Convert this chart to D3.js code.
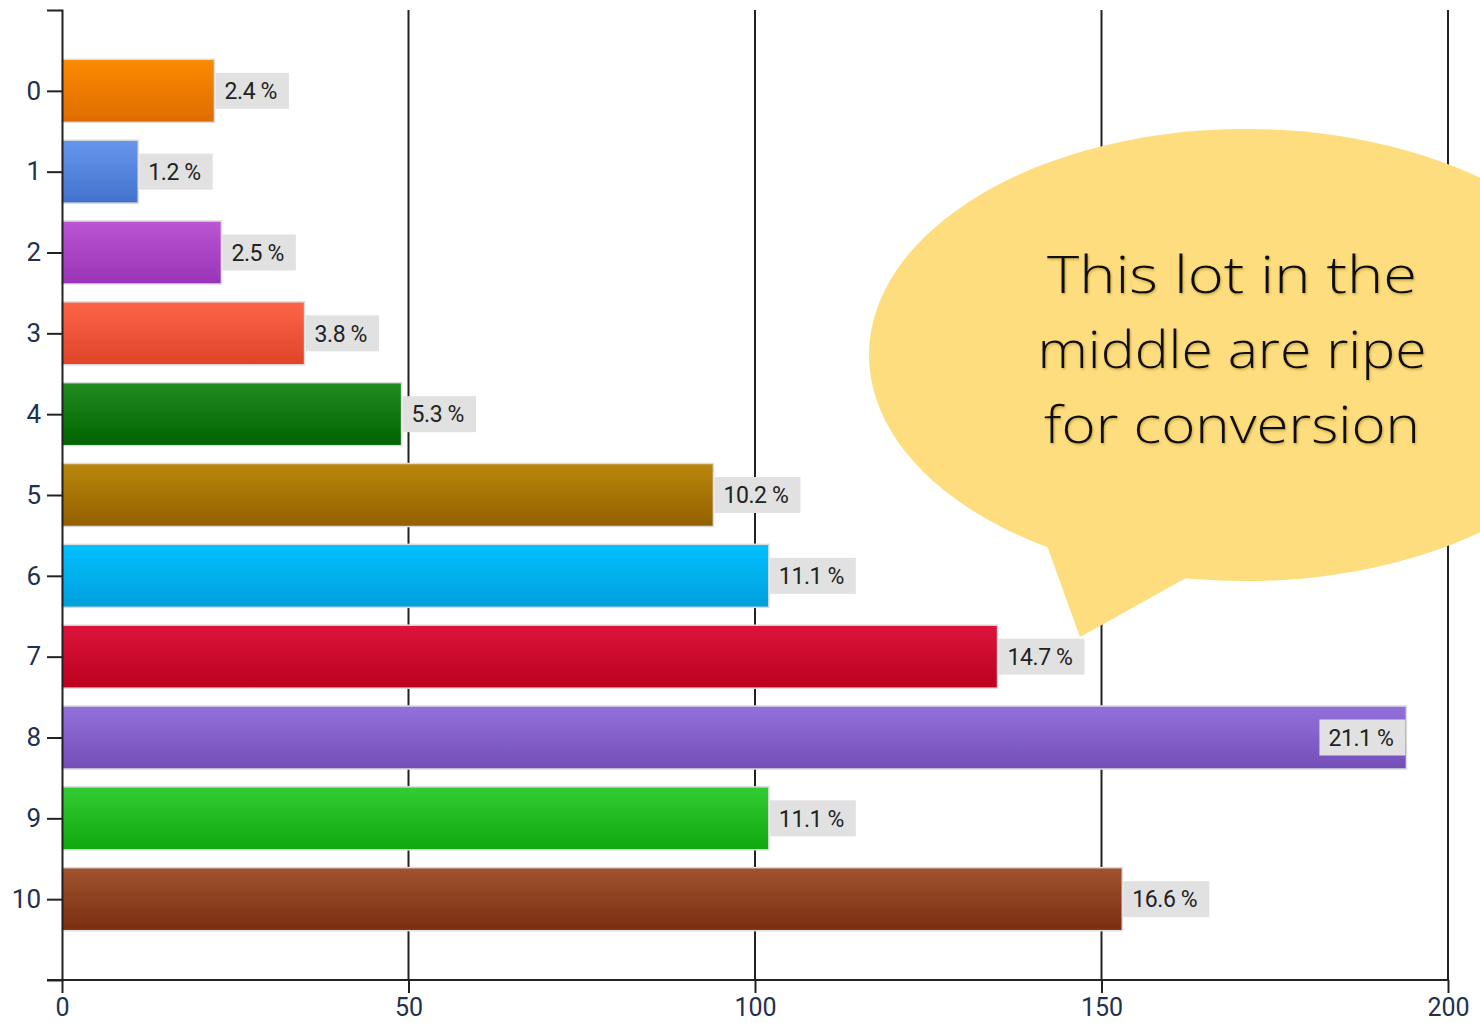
<!DOCTYPE html>
<html>
<head>
<meta charset="utf-8">
<script src="https://cdn.jsdelivr.net/npm/d3@7"></script>
<style>
  html, body { margin: 0; padding: 0; background: #ffffff; }
  svg { display: block; }
  .axis path, .axis line { stroke: #222; stroke-width: 2; }
  .axis text { font-family: Roboto, "Liberation Sans", sans-serif; font-size: 26px; fill: #1f3150; }
  .axis.xaxis text { font-size: 25px; }
  .pct { font-family: Roboto, "Liberation Sans", sans-serif; font-size: 23px; letter-spacing: -0.4px; fill: #222; }
  .note { font-family: "Open Sans", "Noto Sans", sans-serif; font-weight: 300; font-size: 52px; fill: #111; }
</style>
</head>
<body>
<svg id="chart" width="1480" height="1023"></svg>
<script>
// Response buckets and how many people fell into each
const categories = ["0", "1", "2", "3", "4", "5", "6", "7", "8", "9", "10"];
const counts = [22, 11, 23, 35, 49, 94, 102, 135, 194, 102, 153];

// Gradient stops per bar (top, bottom)
const topColors = ["#fb8b00", "#6696ec", "#bb56d4", "#fc6448", "#238c23", "#b9870c", "#00c0ff", "#dc143c", "#9470db", "#33cd33", "#a0532e"];
const bottomColors = ["#df6b00", "#4273cc", "#9834b6", "#df4429", "#006400", "#936000", "#009fdb", "#bc0020", "#744fb8", "#10a810", "#7b2f10"];

const xTicks = [0, 50, 100, 150, 200];
const noteLines = ["This lot in the", "middle are ripe", "for conversion"];

const W = 1480, H = 1023;
const svg = d3.select("#chart");
const defs = svg.append("defs");

const x = d3.scaleLinear().domain([0, 200]).range([62, 1448]);
const y = d3.scalePoint().domain(categories).range([10, 980]).padding(1);
const total = d3.sum(counts);
const barH = 63;

const data = categories.map((c, i) => ({
  cat: c, value: counts[i], top: topColors[i], bottom: bottomColors[i],
  label: (counts[i] / total * 100).toFixed(1) + " %"
}));

// vertical gradients for the bars
data.forEach((d, i) => {
  const g = defs.append("linearGradient").attr("id", "grad" + i)
    .attr("x1", 0).attr("y1", 0).attr("x2", 0).attr("y2", 1);
  g.append("stop").attr("offset", "0%").attr("stop-color", d.top);
  g.append("stop").attr("offset", "100%").attr("stop-color", d.bottom);
});

// soft shadow for the callout text
const f = defs.append("filter").attr("id", "txtShadow").attr("x", "-5%").attr("y", "-20%").attr("width", "110%").attr("height", "140%");
f.append("feDropShadow").attr("dx", 1).attr("dy", 1.5).attr("stdDeviation", 1.2)
  .attr("flood-color", "#8a6a10").attr("flood-opacity", 0.45);

// vertical grid lines
svg.append("g").selectAll("line")
  .data(xTicks.filter(t => t > 0))
  .join("line")
  .attr("x1", d => x(d)).attr("x2", d => x(d))
  .attr("y1", 10).attr("y2", 980)
  .attr("stroke", "#222").attr("stroke-width", 2);

// bars
svg.append("g").selectAll("rect")
  .data(data)
  .join("rect")
  .attr("x", x(0))
  .attr("y", d => y(d.cat) - barH / 2)
  .attr("width", d => x(d.value) - x(0))
  .attr("height", barH)
  .attr("fill", (d, i) => "url(#grad" + i + ")")
  .attr("stroke", "#dcdcdc")
  .attr("stroke-width", 1.5);

// percentage labels in grey boxes
const labelH = 36, padL = 9, padR = 12;
const lg = svg.append("g");
data.forEach(d => {
  const g = lg.append("g");
  const box = g.append("rect").attr("height", labelH).attr("fill", "#e1e1e1");
  const t = g.append("text").attr("class", "pct").text(d.label)
    .attr("dy", "0.36em");
  const tw = t.node().getComputedTextLength();
  const bw = tw + padL + padR;
  const end = x(d.value);
  let bx = end + 1;
  if (bx + bw > W - 2) bx = end - bw - 1;   // not enough room: tuck inside the bar
  const cy = y(d.cat);
  box.attr("x", bx).attr("y", cy - labelH / 2).attr("width", bw);
  t.attr("x", bx + padL).attr("y", cy);
});

// axes
svg.append("g").attr("class", "axis xaxis")
  .attr("transform", "translate(0,980)")
  .call(d3.axisBottom(x).tickValues(xTicks).tickSize(13).tickSizeOuter(0).tickPadding(5))
  .call(g => g.select(".domain").attr("d", "M47,0H" + x(200)));

svg.append("g").attr("class", "axis")
  .attr("transform", "translate(" + x(0) + ",0)")
  .call(d3.axisLeft(y).tickSize(15).tickSizeOuter(15).tickPadding(6));

svg.selectAll(".axis .tick text").attr("fill", "#1f3150");

// speech bubble callout
const bubble = svg.append("g");
bubble.append("ellipse")
  .attr("cx", 1246).attr("cy", 355).attr("rx", 377).attr("ry", 226)
  .attr("fill", "#fddd7e");
bubble.append("path")
  .attr("d", "M1045,540 L1080,637 L1186,578 L1200,540 Z")
  .attr("fill", "#fddd7e");

const lineWidths = [370, 389, 376];
const lineBase = [293, 368, 443];
bubble.selectAll("text")
  .data(noteLines)
  .join("text")
  .attr("class", "note")
  .attr("x", (d, i) => 1232 - lineWidths[i] / 2)
  .attr("y", (d, i) => lineBase[i])
  .attr("textLength", (d, i) => lineWidths[i])
  .attr("lengthAdjust", "spacingAndGlyphs")
  .attr("filter", "url(#txtShadow)")
  .text(d => d);
</script>
</body>
</html>
